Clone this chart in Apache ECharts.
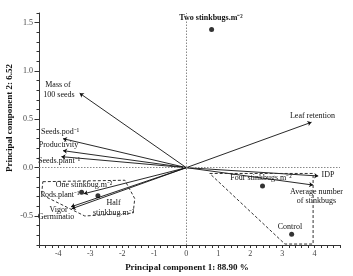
<!DOCTYPE html>
<html>
<head>
<meta charset="utf-8">
<script src="https://cdn.jsdelivr.net/npm/echarts@6/dist/echarts.min.js"></script>
<style>
  html, body { margin: 0; padding: 0; background: #fff; }
  #main { width: 353px; height: 276px; }
</style>
</head>
<body>
<div id="main"></div>
<script>
// loadings (arrows from origin)
var vectorNames = ["Mass of 100 seeds", "Seeds.pod-1", "Productivity", "Seeds.plant-1",
  "Leaf retention", "IDP", "Average number of stinkbugs", "Pods.plant-1", "Vigor", "Germination"];
var vectorX = [-3.33, -3.85, -3.85, -3.90, 3.91, 4.12, 3.96, -3.20, -3.60, -3.58];
var vectorY = [0.77, 0.30, 0.176, 0.114, 0.47, -0.086, -0.18, -0.27, -0.405, -0.425];

// treatment scores (dots)
var treatNames = ["Two stinkbugs.m-2", "Four stinkbugs.m-2", "Control", "One stinkbug.m-2", "Half stinkbug.m-2"];
var treatX = [0.79, 2.38, 3.29, -3.27, -2.76];
var treatY = [1.43, -0.19, -0.69, -0.255, -0.29];

// dashed cluster outlines
var clusterLeft = [[-4.48, -0.145], [-1.92, -0.13], [-1.61, -0.32], [-1.66, -0.47], [-3.17, -0.50], [-4.52, -0.28], [-4.48, -0.145]];
var clusterRight = [[0.73, -0.06], [3.96, -0.06], [3.96, -0.79], [3.08, -0.79], [0.73, -0.06]];

var yMajor = [-0.5, 0, 0.5, 1.0, 1.5];

var dom = document.getElementById("main");
var myChart = echarts.init(dom, null, { renderer: "canvas" });

var serif = "Liberation Serif";
var lbl = function (t, x, y, bold, size) {
  return {
    type: "text",
    x: x,
    y: y,
    style: {
      text: t,
      font: (bold ? "bold " : "") + (size || 8) + "px '" + serif + "'",
      fill: "#111",
      textAlign: "center", align: "center",
      textVerticalAlign: "middle", verticalAlign: "middle"
    }
  };
};

var vecData = [];
for (var i = 0; i < vectorNames.length; i++) {
  vecData.push({ name: vectorNames[i], coords: [[0, 0], [vectorX[i], vectorY[i]]] });
}
var dotData = [];
for (var j = 0; j < treatNames.length; j++) {
  dotData.push({ name: treatNames[j], value: [treatX[j], treatY[j]] });
}

var axisText = { fontFamily: serif, fontSize: 8, color: "#444" };

var option = {
  animation: false,
  grid: { left: 39, right: 13, top: 13, bottom: 31 },
  xAxis: [{
    type: "value",
    min: -4.6, max: 4.8, interval: 0.2,
    splitLine: { show: false },
    axisLine: { onZero: false, lineStyle: { color: "#333", width: 1 } },
    axisTick: { show: true, length: 3, lineStyle: { color: "#333" } },
    axisLabel: Object.assign({
      margin: 5,
      formatter: function (v) {
        var r = Math.round(v);
        return Math.abs(v - r) < 1e-6 ? String(r) : "";
      }
    }, axisText)
  }],
  yAxis: [{
    type: "value",
    min: -0.8, max: 1.6, interval: 0.1,
    splitLine: { show: false },
    axisLine: { onZero: false, lineStyle: { color: "#333", width: 1 } },
    axisTick: { show: true, length: 2.5, lineStyle: { color: "#333" } },
    axisLabel: Object.assign({
      margin: 6,
      formatter: function (v) {
        var r = Math.round(v * 2) / 2;
        return Math.abs(v - r) < 1e-6 ? r.toFixed(1) : "";
      }
    }, axisText)
  }, {
    type: "value",
    position: "left",
    min: -0.8, max: 1.6,
    splitLine: { show: false },
    axisLine: { show: false, onZero: false },
    axisLabel: { show: false },
    axisTick: { show: true, length: 4.5, customValues: yMajor, lineStyle: { color: "#333" } }
  }],
  series: [
    {
      type: "line",
      data: [],
      markLine: {
        silent: true,
        symbol: "none",
        label: { show: false },
        lineStyle: { color: "#888", type: [1.5, 1.5], width: 1 },
        data: [{ xAxis: 0 }, { yAxis: 0 }]
      }
    },
    {
      type: "line",
      data: clusterLeft,
      symbol: "none",
      lineStyle: { color: "#333", width: 1, type: [3, 2] }
    },
    {
      type: "line",
      data: clusterRight,
      symbol: "none",
      lineStyle: { color: "#333", width: 1, type: [3, 2] }
    },
    {
      type: "lines",
      coordinateSystem: "cartesian2d",
      symbol: ["none", "arrow"],
      symbolSize: 4,
      lineStyle: { color: "#111", width: 0.9, opacity: 1 },
      data: vecData
    },
    {
      type: "scatter",
      symbolSize: 5,
      itemStyle: { color: "#000" },
      data: dotData
    }
  ],
  graphic: [
    lbl("Two stinkbugs.m\u207B\u00B2", 211, 18, true),
    lbl("Mass of", 58, 85),
    lbl("100 seeds", 59, 94.5),
    lbl("Seeds.pod\u207B\u00B9", 60, 132),
    lbl("Productivity", 58.5, 144.5),
    lbl("Seeds.plant\u207B\u00B9", 59, 160.5),
    lbl("One stinkbug.m\u207B\u00B2", 84, 185),
    lbl("Pods.plant\u207B\u00B9", 60, 195),
    lbl("Vigor", 58.5, 209.5),
    lbl("Germinatio", 56, 217),
    lbl("Half", 113.5, 202.5),
    lbl("stinkbug.m\u207B\u00B2", 113.5, 212.5),
    lbl("Leaf retention", 312.5, 116),
    lbl("IDP", 328, 175),
    lbl("Four stinkbugs.m\u207B\u00B2", 261, 177.5),
    lbl("Average number", 316.5, 192),
    lbl("of stinkbugs", 316.5, 201),
    lbl("Control", 290, 227),
    lbl("Principal component 1: 88.90 %", 187, 268, true, 9),
    {
      type: "text",
      x: 10, y: 118,
      rotation: Math.PI / 2,
      style: {
        text: "Principal component 2: 6.52",
        font: "bold 9px '" + serif + "'",
        fill: "#111",
        textAlign: "center", align: "center",
        textVerticalAlign: "middle", verticalAlign: "middle"
      }
    }
  ]
};

myChart.setOption(option);
window.addEventListener("resize", myChart.resize);
</script>
</body>
</html>
